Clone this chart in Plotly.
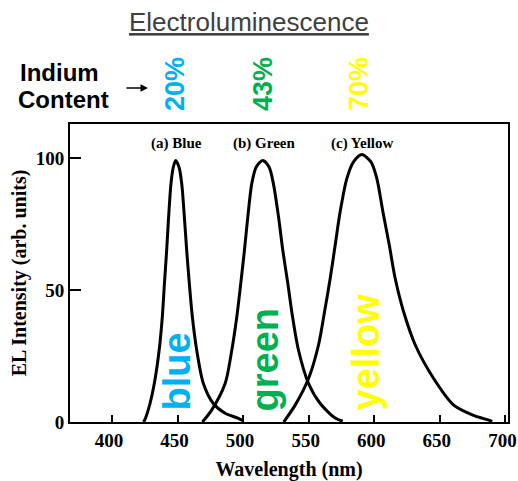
import plotly.graph_objects as go

# Data
blue_wl = [424, 425, 429, 432.3, 436, 438.4, 440, 441.7, 443.2, 445, 446.8, 448.6,
           451.1, 453.2, 455.2, 457, 459, 461.3, 464.6, 469.7, 477.3, 486.3, 496.4, 500]
blue_int = [0, 0.8, 7, 14.6, 27.3, 39.9, 52.5, 65, 77.8, 90.4, 96.7, 99.2,
            96.7, 90.4, 77.8, 65, 52.5, 39.9, 27.3, 14.6, 7, 3.3, 1.4, 0.5]

green_wl = [469, 476, 486.3, 491.4, 495.2, 498.2, 501, 503.6, 506.6, 510, 515,
            519.8, 523.1, 527, 530.3, 534.1, 537.7, 542.2, 549.9, 558.8, 570.2, 576]
green_int = [0, 4.5, 14.6, 27.3, 39.9, 52.5, 65, 77.8, 90.4, 96.7, 99.2,
             96.7, 90.4, 77.8, 65, 52.5, 39.9, 27.3, 14.6, 7, 1.5, 0.3]

yellow_wl = [531, 532, 539.7, 549.9, 557.5, 562.1, 566.4, 570.2, 574, 579.1, 584.2, 590.6,
             597.5, 602, 606.6, 611.5, 616, 622.4, 631.3, 645.3, 660.6, 675.8, 687.3, 690]
yellow_int = [0, 0.7, 6.4, 16.5, 29.2, 41.8, 54.4, 67, 79.7, 92.3, 98.6, 101.4,
              98.6, 92.3, 79.7, 67, 54.4, 41.8, 29.2, 16.5, 6.4, 2.5, 0.7, 0.2]

x_ticks = [400, 450, 500, 550, 600, 650, 700]
y_ticks = [0, 50, 100]

peak_labels = ["(a) Blue", "(b) Green", "(c) Yellow"]
peak_label_x = [449, 516, 591]
indium = ["20%", "43%", "70%"]
color_names = ["blue", "green", "yellow"]
colors = ["#00B0F0", "#00B050", "#FFFF00"]

fig = go.Figure()
for wl, it in [(blue_wl, blue_int), (green_wl, green_int), (yellow_wl, yellow_int)]:
    fig.add_trace(go.Scatter(x=wl, y=it, mode="lines",
                             line=dict(color="black", width=3, shape="spline", smoothing=0.8),
                             showlegend=False, hoverinfo="skip"))

serif = "Liberation Serif, Times New Roman, serif"
sans = "Liberation Sans, Arial, sans-serif"

# plot area at x 70..508, y 124..422 of the window (body margin removed below)
fig.update_layout(
    width=518, height=481,
    margin=dict(l=70, r=10, t=124, b=59),
    paper_bgcolor="white", plot_bgcolor="white",
    xaxis=dict(range=[368, 702], tickvals=x_ticks, ticks="inside", ticklen=7, tickwidth=1.5,
               tickcolor="black", showline=True, linecolor="black", linewidth=2, mirror=True,
               showgrid=False, zeroline=False, automargin=False, ticklabeloverflow="allow",
               ticklabelshift=-3,
               tickfont=dict(family=serif, size=19, color="black", weight="bold"),
               title=dict(text="<b>Wavelength (nm)</b>", font=dict(family=serif, size=20, color="black"),
                          standoff=12)),
    yaxis=dict(range=[0, 113], tickvals=y_ticks, ticks="inside", ticklen=11, tickwidth=1.5,
               tickcolor="black", showline=True, linecolor="black", linewidth=2, mirror=True,
               showgrid=False, zeroline=False, automargin=False, ticklabeloverflow="allow",
               tickfont=dict(family=serif, size=19, color="black", weight="bold"),
               title=dict(text="<b>EL Intensity (arb. units)</b>", font=dict(family=serif, size=20, color="black"),
                          standoff=4)),
)

ann = []
# title
ann.append(dict(text="<u>Electroluminescence</u>", xref="paper", yref="paper",
                x=(249 - 70) / 438, y=(422 - 22) / 298, showarrow=False,
                font=dict(family=sans, size=26, color="#404040"), xanchor="center", yanchor="middle"))
# Indium Content
ann.append(dict(text="<b>Indium</b>", xref="paper", yref="paper",
                x=(18 - 70) / 438, y=(422 - 72) / 298, showarrow=False,
                font=dict(family=sans, size=24, color="black"), xanchor="left", yanchor="middle"))
ann.append(dict(text="<b>Content</b>", xref="paper", yref="paper",
                x=(16 - 70) / 438, y=(422 - 100) / 298, showarrow=False,
                font=dict(family=sans, size=24, color="black"), xanchor="left", yanchor="middle"))
ann.append(dict(text="", xref="paper", yref="paper", x=(148 - 70) / 438, y=(422 - 88) / 298,
                ax=-23, ay=0, showarrow=True, arrowhead=2, arrowsize=1, arrowwidth=1.5, arrowcolor="black"))
# indium percentages
for txt, px, c in zip(indium, [175, 263, 359], colors):
    ann.append(dict(text="<b>%s</b>" % txt, xref="paper", yref="paper",
                    x=(px - 70) / 438, y=(422 - 84) / 298, showarrow=False, textangle=-90,
                    font=dict(family=sans, size=27, color=c), xanchor="center", yanchor="middle"))
# peak labels
for txt, xv in zip(peak_labels, peak_label_x):
    ann.append(dict(text="<b>%s</b>" % txt, x=xv, y=(422 - 143) / 2.64, xref="x", yref="y",
                    showarrow=False, font=dict(family=serif, size=15, color="black"),
                    xanchor="center", yanchor="middle"))
# big colour words
for txt, xv, yb, c in zip(color_names, [450, 517, 594], [372, 360, 352], colors):
    ann.append(dict(text="<b>%s</b>" % txt, x=xv, y=(422 - yb) / 2.64, xref="x", yref="y",
                    showarrow=False, textangle=-90,
                    font=dict(family=sans, size=38, color=c), xanchor="center", yanchor="middle"))
fig.update_layout(annotations=ann)

fig.write_html("out.html", config={"displayModeBar": False},
               post_script="document.body.style.margin='0px';document.body.style.overflow='hidden';")
